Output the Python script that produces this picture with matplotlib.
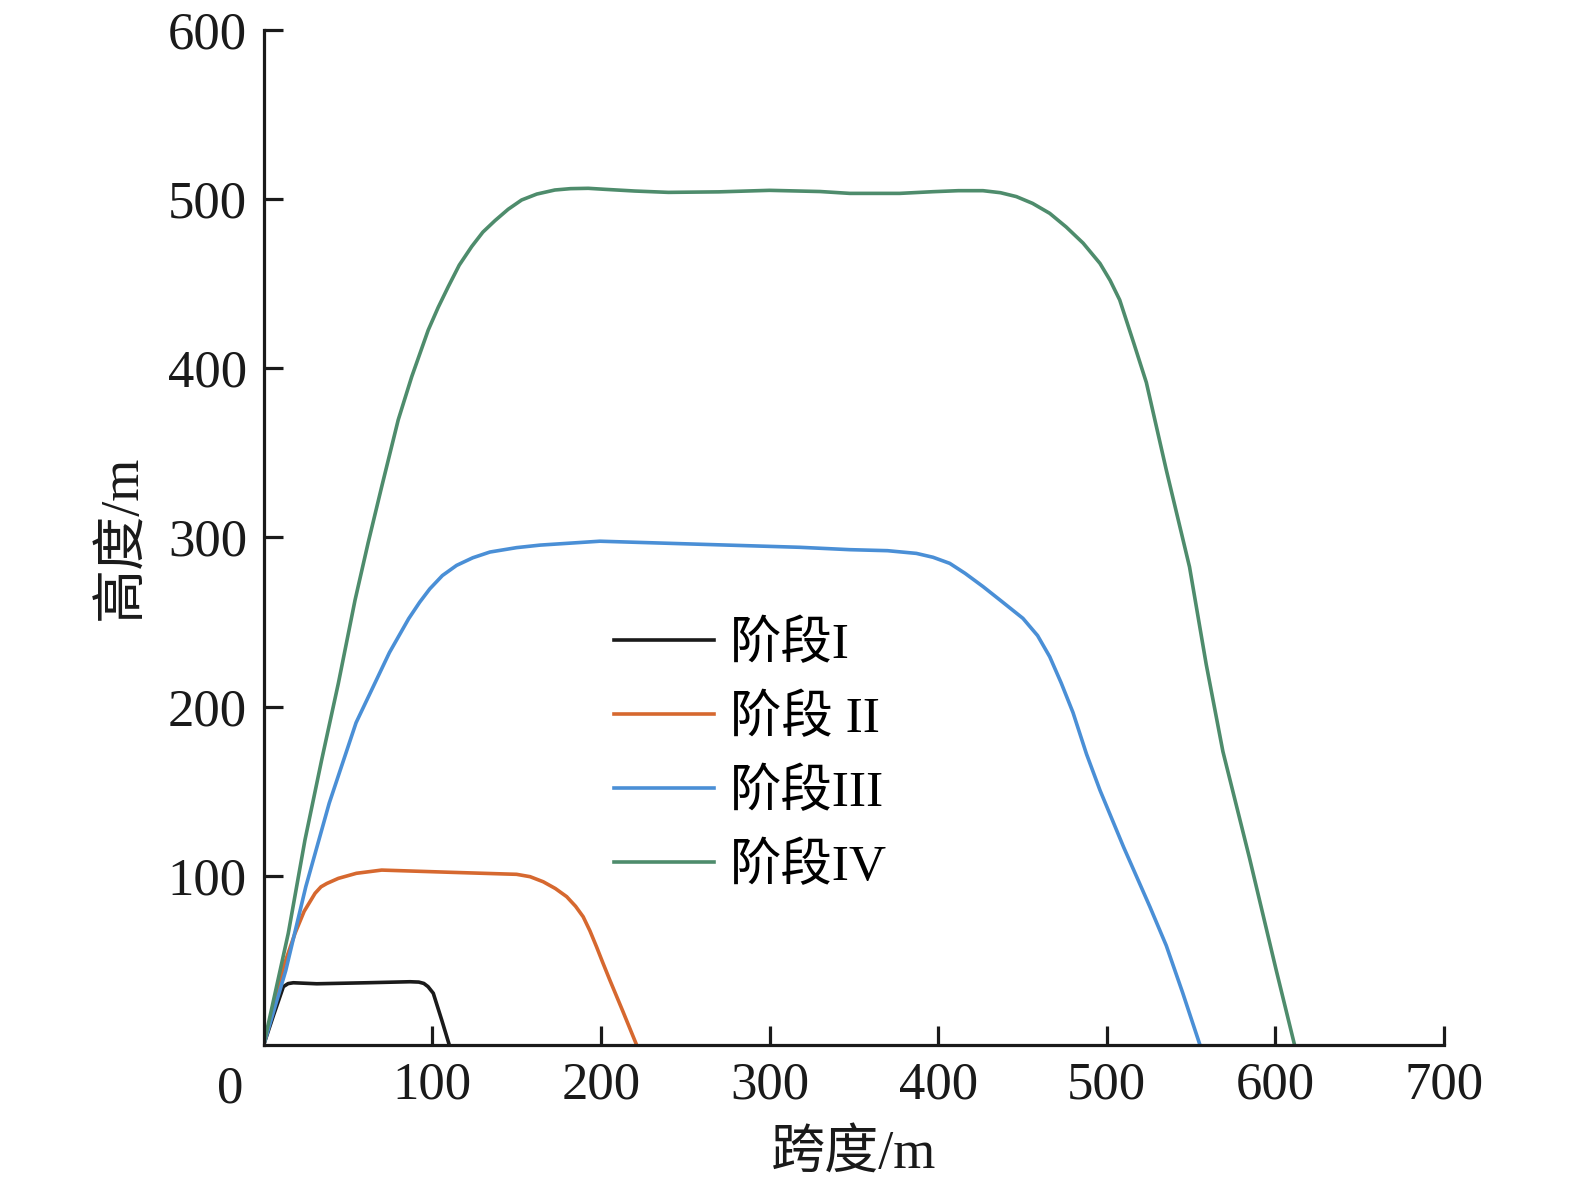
import matplotlib.pyplot as plt

plt.rcParams['font.family'] = ['Liberation Serif', 'Noto Sans CJK SC']

# stage I
x1 = [0, 6.0, 11.7, 14.5, 17.6, 31.5, 61.1, 86.8, 92.0, 95.0, 97.5, 100.6, 105.6, 110.1]
y1 = [0, 18.0, 34.5, 36.3, 36.8, 36.2, 36.8, 37.4, 37.2, 36.4, 34.5, 30.6, 14.8, 0]

# stage II
x2 = [0, 6.8, 12.0, 18.6, 24.0, 30.5, 34.0, 37.5, 44.3, 55.0, 70.0, 110.5, 143.1,
      150.0, 158.0, 165.8, 173.0, 179.7, 185.0, 189.5, 193.5, 197.4, 201.0, 205.3,
      213.0, 221.2]
y2 = [0, 26.6, 47.0, 66.0, 79.0, 89.7, 93.5, 95.5, 98.5, 101.5, 103.4, 102.1, 101.1,
      100.9, 99.5, 96.5, 92.5, 87.7, 82.0, 75.8, 67.5, 58.1, 49.0, 38.4,
      20.0, 0]

# stage III
x3 = [0, 13.1, 25.0, 38.9, 54.8, 74.6, 86.0, 92.5, 98.5, 106.0, 114.4, 124.0,
      134.2, 150.0, 164.0, 199.4, 258.7, 318.0, 347.6, 370.0, 387.1, 397.0,
      406.9, 416.0, 426.6, 438.0, 450.3, 459.0, 466.2, 473.0, 480.0, 488.0,
      496.0, 510.0, 525.6, 535.3, 545.0, 555.3]
y3 = [0, 44.0, 93.6, 143.0, 190.5, 232.0, 252.0, 261.7, 269.6, 277.5, 283.5, 288.0,
      291.4, 294.0, 295.5, 297.8, 296.0, 294.2, 292.8, 292.2, 290.6, 288.3,
      284.7, 278.8, 271.0, 262.0, 252.2, 242.0, 229.5, 214.0, 196.5, 172.0,
      150.6, 117.0, 81.7, 58.8, 31.0, 0]

# stage IV
x4 = [0, 14.6, 24.5, 34.4, 44.3, 54.2, 62.0, 70.0, 79.8, 87.8, 97.6, 103.5, 109.5,
      116.0, 123.4, 130.0, 137.2, 145.0, 153.0, 162.0, 172.7, 182.0, 192.5, 202.4,
      220.0, 240.0, 270.0, 300.0, 330.0, 347.6, 377.2, 397.0, 412.0, 426.6, 437.0,
      446.4, 456.0, 466.2, 476.0, 486.0, 496.0, 502.0, 507.7, 516.0, 523.5, 535.3,
      549.1, 559.0, 568.9, 584.7, 600.5, 611.4]
y4 = [0, 66.0, 121.2, 168.5, 213.8, 263.0, 297.0, 330.0, 369.5, 395.0, 422.6, 436.0,
      448.3, 461.0, 472.0, 480.5, 487.3, 494.0, 499.5, 503.0, 505.4, 506.2, 506.4,
      505.8, 504.8, 504.0, 504.3, 505.2, 504.5, 503.4, 503.4, 504.4, 505.0, 505.0,
      503.8, 501.5, 497.5, 491.6, 483.5, 474.0, 462.0, 452.0, 440.4, 415.0, 391.6,
      340.0, 282.6, 225.0, 173.5, 110.4, 44.3, 0]

labels = ['阶段I', '阶段 II', '阶段III', '阶段IV']
colors = ['#1a1a1a', '#d6682f', '#4a8fd6', '#4e8c6c']

fig = plt.figure(figsize=(15.75, 11.89), dpi=100)
ax = fig.add_axes([0.1674, 0.1211, 0.7494, 0.8537])

for xs, ys, lab, c in zip([x1, x2, x3, x4], [y1, y2, y3, y4], labels, colors):
    ax.plot(xs, ys, color=c, lw=2.6, label=lab, solid_joinstyle='round')

ax.set_xlim(0, 700)
ax.set_ylim(0, 600)
ax.set_xticks([100, 200, 300, 400, 500, 600, 700])
ax.set_yticks([100, 200, 300, 400, 500, 600])
ax.spines['top'].set_visible(False)
ax.spines['right'].set_visible(False)
for s in ['left', 'bottom']:
    ax.spines[s].set_linewidth(2.3)
    ax.spines[s].set_color('#1a1a1a')
ax.tick_params(direction='in', length=14, width=2.3, color='#1a1a1a',
               labelsize=38, pad=12, labelcolor='#1a1a1a')
ax.annotate('0', xy=(0, 0), xytext=(-24, -15), textcoords='offset points',
            ha='center', va='top', fontsize=38, color='#1a1a1a')

ax.set_xlabel('跨度/m', fontsize=39, labelpad=14, color='#1a1a1a')
ax.set_ylabel('高度/m', fontsize=39, labelpad=14, color='#1a1a1a')

ax.legend(loc='center left', bbox_to_anchor=(0.297, 0.285), frameon=False,
          fontsize=37, handlelength=1.95, handletextpad=0.3, labelspacing=0.5,
          borderpad=0, borderaxespad=0)

fig.savefig('out.png', dpi=100)
